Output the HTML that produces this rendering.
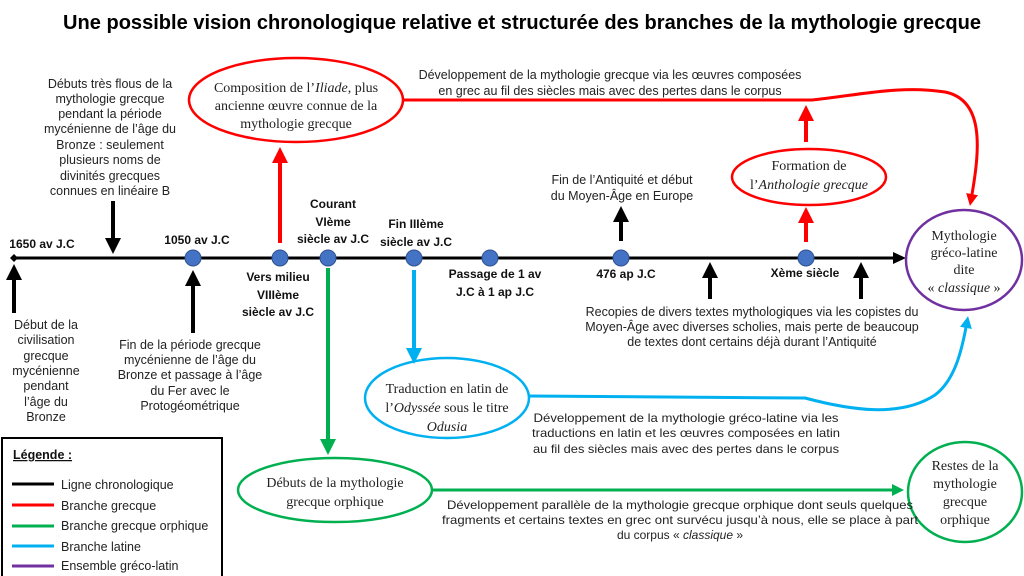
<!DOCTYPE html>
<html><head><meta charset="utf-8"><style>
html,body{margin:0;padding:0;background:#fff;}
svg{display:block;}
.s{font-family:"Liberation Sans",sans-serif;font-size:12.5px;fill:#222;}
.b{font-family:"Liberation Sans",sans-serif;font-size:12px;font-weight:bold;fill:#111;}
.r{font-family:"Liberation Serif",serif;font-size:14px;fill:#222;}
.n{font-family:"Liberation Sans",sans-serif;font-size:12px;fill:#222;}
</style></head><body>
<svg width="1024" height="576" viewBox="0 0 1024 576" xmlns="http://www.w3.org/2000/svg">
<defs>
<marker id="ak" markerWidth="4" markerHeight="4" refX="2" refY="2" orient="auto"><path d="M0,0L4,2L0,4z" fill="#000"/></marker>
<marker id="ar" markerWidth="4" markerHeight="4" refX="2" refY="2" orient="auto"><path d="M0,0L4,2L0,4z" fill="#f00"/></marker>
<marker id="ag" markerWidth="4" markerHeight="4" refX="2" refY="2" orient="auto"><path d="M0,0L4,2L0,4z" fill="#00b050"/></marker>
<marker id="ab" markerWidth="4" markerHeight="4" refX="2" refY="2" orient="auto"><path d="M0,0L4,2L0,4z" fill="#00b0f0"/></marker>
</defs>
<text x="522" y="29" text-anchor="middle" font-family="Liberation Sans,sans-serif" font-size="20" font-weight="bold" fill="#000" textLength="918" lengthAdjust="spacingAndGlyphs">Une possible vision chronologique relative et structurée des branches de la mythologie grecque</text>

<line x1="14" y1="258" x2="896" y2="258" stroke="#000" stroke-width="3"/>
<path d="M893,252L906,258L893,264z" fill="#000"/>
<path d="M14,254L18,258L14,262L10,258z" fill="#000"/>
<g fill="#4472c4" stroke="#2f528f" stroke-width="1">
<circle cx="193" cy="258" r="8"/><circle cx="280" cy="258" r="8"/><circle cx="328" cy="258" r="8"/><circle cx="414" cy="258" r="8"/><circle cx="490" cy="258" r="8"/><circle cx="621" cy="258" r="8"/><circle cx="806" cy="258" r="8"/>
</g>

<g stroke="#000" stroke-width="4" marker-end="url(#ak)">
<line x1="113" y1="201" x2="113" y2="246"/>
<line x1="14" y1="313" x2="14" y2="272"/>
<line x1="193" y1="333" x2="193" y2="278"/>
<line x1="621" y1="241" x2="621" y2="214"/>
<line x1="710" y1="299" x2="710" y2="270"/>
<line x1="861" y1="299" x2="861" y2="270"/>
</g>

<g class="b" text-anchor="middle">
<text x="42" y="248">1650 av J.C</text>
<text x="197" y="244">1050 av J.C</text>
<text x="333" y="208">Courant</text><text x="333" y="226">VIème</text><text x="333" y="243">siècle av J.C</text>
<text x="416" y="228">Fin IIIème</text><text x="416" y="246">siècle av J.C</text>
<text x="278" y="281">Vers milieu</text><text x="278" y="299">VIIIème</text><text x="278" y="316">siècle av J.C</text>
<text x="495" y="278">Passage de 1 av</text><text x="495" y="296">J.C à 1 ap J.C</text>
<text x="626" y="278">476 ap J.C</text>
<text x="805" y="277">Xème siècle</text>
</g>

<g class="s" text-anchor="middle">
<text x="110" y="88">Débuts très flous de la</text>
<text x="110" y="103">mythologie grecque</text>
<text x="110" y="118">pendant la période</text>
<text x="110" y="133">mycénienne de l’âge du</text>
<text x="110" y="149">Bronze : seulement</text>
<text x="110" y="164">plusieurs noms de</text>
<text x="110" y="180">divinités grecques</text>
<text x="110" y="195">connues en linéaire B</text>

<text x="46" y="329">Début de la</text>
<text x="46" y="344">civilisation</text>
<text x="46" y="360">grecque</text>
<text x="46" y="375">mycénienne</text>
<text x="46" y="390">pendant</text>
<text x="46" y="406">l’âge du</text>
<text x="46" y="421">Bronze</text>

<text x="190" y="349">Fin de la période grecque</text>
<text x="190" y="364">mycénienne de l’âge du</text>
<text x="190" y="379">Bronze et passage à l’âge</text>
<text x="190" y="395">du Fer avec le</text>
<text x="190" y="410">Protogéométrique</text>

<text x="622" y="184">Fin de l’Antiquité et début</text>
<text x="622" y="200">du Moyen-Âge en Europe</text>

<text x="752" y="316">Recopies de divers textes mythologiques via les copistes du</text>
<text x="752" y="331">Moyen-Âge avec diverses scholies, mais perte de beaucoup</text>
<text x="752" y="346">de textes dont certains déjà durant l’Antiquité</text>

<text x="610" y="79">Développement de la mythologie grecque via les œuvres composées</text>
<text x="610" y="95">en grec au fil des siècles mais avec des pertes dans le corpus</text>
</g>

<ellipse cx="296" cy="100" rx="107" ry="42" fill="none" stroke="#f00" stroke-width="2.5"/>
<g class="r" text-anchor="middle">
<text x="296" y="92">Composition de l’<tspan font-style="italic">Iliade</tspan>, plus</text>
<text x="296" y="110">ancienne œuvre connue de la</text>
<text x="296" y="128">mythologie grecque</text>
</g>
<line x1="280" y1="243" x2="280" y2="155" stroke="#f00" stroke-width="4" marker-end="url(#ar)"/>
<path d="M403,100L812,100C860,95 900,85 945,92C985,100 980,150 971,200" fill="none" stroke="#f00" stroke-width="3" marker-end="url(#ar)"/>
<ellipse cx="809" cy="177" rx="77" ry="28" fill="none" stroke="#f00" stroke-width="2.5"/>
<g class="r" text-anchor="middle">
<text x="809" y="170">Formation de</text>
<text x="809" y="189">l’<tspan font-style="italic">Anthologie grecque</tspan></text>
</g>
<line x1="806" y1="242" x2="806" y2="215" stroke="#f00" stroke-width="4" marker-end="url(#ar)"/>
<line x1="806" y1="142" x2="806" y2="113" stroke="#f00" stroke-width="4" marker-end="url(#ar)"/>

<ellipse cx="964" cy="260" rx="58" ry="50" fill="none" stroke="#7030a0" stroke-width="2.5"/>
<g class="r" text-anchor="middle">
<text x="964" y="240">Mythologie</text>
<text x="964" y="257">gréco-latine</text>
<text x="964" y="274">dite</text>
<text x="964" y="292">« <tspan font-style="italic">classique</tspan> »</text>
</g>

<line x1="414" y1="270" x2="414" y2="356" stroke="#00b0f0" stroke-width="4" marker-end="url(#ab)"/>
<ellipse cx="447" cy="398" rx="82" ry="40" fill="none" stroke="#00b0f0" stroke-width="2.5"/>
<g class="r" text-anchor="middle">
<text x="447" y="393">Traduction en latin de</text>
<text x="447" y="412">l’<tspan font-style="italic">Odyssée</tspan> sous le titre</text>
<text x="447" y="431"><tspan font-style="italic">Odusia</tspan></text>
</g>
<path d="M529,396L805,398C850,410 900,418 935,395C955,380 962,350 967,322" fill="none" stroke="#00b0f0" stroke-width="3" marker-end="url(#ab)"/>
<g class="n" text-anchor="middle">
<text x="686" y="422" textLength="305" lengthAdjust="spacingAndGlyphs">Développement de la mythologie gréco-latine via les</text>
<text x="686" y="437" textLength="308" lengthAdjust="spacingAndGlyphs">traductions en latin et les œuvres composées en latin</text>
<text x="686" y="453" textLength="306" lengthAdjust="spacingAndGlyphs">au fil des siècles mais avec des pertes dans le corpus</text>
</g>

<line x1="328" y1="268" x2="328" y2="447" stroke="#00b050" stroke-width="4" marker-end="url(#ag)"/>
<ellipse cx="335" cy="490" rx="97" ry="32" fill="none" stroke="#00b050" stroke-width="2.5"/>
<g class="r" text-anchor="middle">
<text x="335" y="487">Débuts de la mythologie</text>
<text x="335" y="506">grecque orphique</text>
</g>
<line x1="432" y1="490" x2="898" y2="490" stroke="#00b050" stroke-width="3" marker-end="url(#ag)"/>
<ellipse cx="965" cy="492" rx="57" ry="50" fill="none" stroke="#00b050" stroke-width="2.5"/>
<g class="r" text-anchor="middle">
<text x="965" y="470">Restes de la</text>
<text x="965" y="488">mythologie</text>
<text x="965" y="506">grecque</text>
<text x="965" y="524">orphique</text>
</g>
<g class="n" text-anchor="middle">
<text x="680" y="509" textLength="466" lengthAdjust="spacingAndGlyphs">Développement parallèle de la mythologie grecque orphique dont seuls quelques</text>
<text x="680" y="524" textLength="476" lengthAdjust="spacingAndGlyphs">fragments et certains textes en grec ont survécu jusqu’à nous, elle se place à part</text>
<text x="680" y="539">du corpus « <tspan font-style="italic">classique</tspan> »</text>
</g>

<rect x="2" y="438" width="220" height="140" fill="#fff" stroke="#000" stroke-width="2"/>
<text x="13" y="459" font-family="Liberation Sans,sans-serif" font-size="12.5" font-weight="bold" text-decoration="underline" fill="#111">Légende :</text>
<g stroke-width="3">
<line x1="12" y1="484" x2="54" y2="484" stroke="#000"/>
<line x1="12" y1="505" x2="54" y2="505" stroke="#f00"/>
<line x1="12" y1="526" x2="54" y2="526" stroke="#00b050"/>
<line x1="12" y1="546" x2="54" y2="546" stroke="#00b0f0"/>
<line x1="12" y1="566" x2="54" y2="566" stroke="#7030a0"/>
</g>
<g class="s">
<text x="61" y="489">Ligne chronologique</text>
<text x="61" y="510">Branche grecque</text>
<text x="61" y="530">Branche grecque orphique</text>
<text x="61" y="551">Branche latine</text>
<text x="61" y="570">Ensemble gréco-latin</text>
</g>
</svg>
</body></html>
